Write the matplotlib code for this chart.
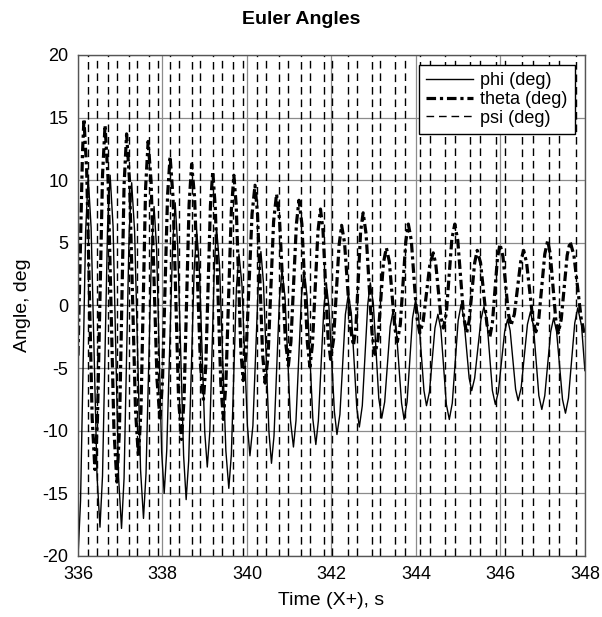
import numpy as np
import matplotlib
matplotlib.use("Agg")
import matplotlib.pyplot as plt

plt.rcParams['font.family'] = ['Liberation Sans', 'DejaVu Sans']
plt.rcParams['axes.unicode_minus'] = False

# phi (deg)
phi_t = [336.00,
         336.06, 336.18, 336.24, 336.31, 336.45, 336.52, 336.58, 336.70, 336.76,
         336.83, 336.96, 337.03, 337.09, 337.21, 337.27, 337.34, 337.48, 337.55,
         337.61, 337.74, 337.80, 337.86, 337.98, 338.04, 338.10, 338.24, 338.30,
         338.36, 338.50, 338.56, 338.62, 338.75, 338.81, 338.87, 339.00, 339.06,
         339.12, 339.23, 339.28, 339.35, 339.50, 339.57, 339.63, 339.75, 339.81,
         339.88, 340.01, 340.07, 340.14, 340.27, 340.33, 340.39, 340.52, 340.58,
         340.64, 340.77, 340.83, 340.90, 341.03, 341.10, 341.16, 341.29, 341.35,
         341.42, 341.56, 341.63, 341.69, 341.82, 341.88, 341.94, 342.07, 342.13,
         342.20, 342.33, 342.40, 342.47, 342.60, 342.66, 342.73, 342.86, 342.92,
         342.99, 343.12, 343.19, 343.26, 343.39, 343.46, 343.53, 343.66, 343.72,
         343.79, 343.92, 343.99, 344.06, 344.19, 344.25, 344.32, 344.45, 344.52,
         344.59, 344.72, 344.79, 344.86, 345.00, 345.07, 345.13, 345.26, 345.32,
         345.39, 345.54, 345.61, 345.68, 345.81, 345.88, 345.95, 346.10, 346.17,
         346.23, 346.36, 346.42, 346.49, 346.64, 346.71, 346.78, 346.91, 346.98,
         347.05, 347.19, 347.26, 347.33, 347.47, 347.54, 347.61, 347.76, 347.83,
         347.92, 348.00]
phi_deg = [-20.0,
           -15.6, 5.9, 10.3, 6.2, -13.6, -17.7, -13.6, 6.3, 10.4,
           6.3, -13.7, -17.8, -13.8, 5.8, 9.8, 5.9, -13.1, -17.0,
           -13.4, 4.3, 7.9, 4.6, -11.7, -15.0, -11.6, 4.8, 8.2,
           4.7, -12.0, -15.5, -12.4, 2.9, 6.0, 3.2, -10.1, -12.9,
           -10.1, 3.4, 6.2, 3.2, -11.6, -14.6, -11.9, 1.4, 4.1,
           1.7, -9.6, -12.0, -9.6, 1.9, 4.3, 1.8, -10.1, -12.6,
           -10.4, 0.6, 2.8, 0.7, -9.2, -11.3, -9.2, 0.7, 2.8,
           0.8, -9.1, -11.1, -9.2, -0.2, 1.7, -0.1, -8.5, -10.3,
           -8.7, -0.7, 0.9, -0.6, -8.2, -9.7, -8.0, 0.1, 1.8,
           0.2, -7.4, -9.0, -7.7, -1.7, -0.4, -1.7, -7.8, -9.1,
           -7.7, -1.0, 0.4, -0.8, -6.8, -8.0, -6.9, -1.8, -0.7,
           -1.9, -7.9, -9.1, -7.8, -1.2, 0.1, -0.9, -5.8, -6.8,
           -5.8, -1.1, -0.1, -1.2, -6.8, -7.9, -6.9, -2.1, -1.1,
           -2.0, -6.7, -7.6, -6.6, -1.5, -0.5, -1.6, -7.2, -8.3,
           -7.2, -2.1, -1.0, -2.1, -7.5, -8.6, -7.4, -1.4, -0.2,
           -1.6, -5.2]

# theta (deg)
theta_t = [336.00, 336.105, 336.14,
           336.205, 336.335, 336.40, 336.46, 336.58, 336.64, 336.71, 336.85, 336.92,
           336.98, 337.09, 337.15, 337.22, 337.36, 337.43, 337.49, 337.60, 337.66,
           337.73, 337.87, 337.94, 338.00, 338.12, 338.18, 338.25, 338.38, 338.45,
           338.51, 338.63, 338.69, 338.76, 338.90, 338.97, 339.025, 339.135, 339.19,
           339.25, 339.38, 339.44, 339.50, 339.63, 339.69, 339.745, 339.855, 339.91,
           339.98, 340.12, 340.19, 340.25, 340.37, 340.43, 340.50, 340.63, 340.70,
           340.77, 340.91, 340.98, 341.04, 341.17, 341.23, 341.30, 341.43, 341.49,
           341.55, 341.68, 341.74, 341.80, 341.92, 341.98, 342.05, 342.18, 342.24,
           342.31, 342.45, 342.52, 342.58, 342.69, 342.75, 342.82, 342.96, 343.03,
           343.10, 343.23, 343.30, 343.37, 343.50, 343.56, 343.63, 343.76, 343.82,
           343.89, 344.02, 344.09, 344.17, 344.33, 344.41, 344.47, 344.59, 344.65,
           344.72, 344.85, 344.92, 344.99, 345.13, 345.20, 345.26, 345.39, 345.45,
           345.53, 345.68, 345.75, 345.81, 345.93, 345.99, 346.06, 346.19, 346.25,
           346.33, 346.48, 346.55, 346.62, 346.77, 346.84, 346.91, 347.05, 347.12,
           347.18, 347.31, 347.37, 347.44, 347.58, 347.65, 347.74, 347.91, 348.00]
theta_deg = [-4.0, 12.1, 14.9,
             10.8, -9.0, -13.1, -9.1, 10.4, 14.4, 10.2, -9.9, -14.1,
             -10.0, 9.6, 13.7, 9.9, -8.3, -12.1, -8.4, 9.4, 13.1,
             9.9, -5.9, -9.1, -6.0, 8.8, 11.9, 8.6, -7.4, -10.7,
             -7.5, 8.1, 11.3, 8.6, -4.8, -7.5, -4.8, 8.0, 10.7,
             7.8, -6.2, -9.1, -6.3, 7.6, 10.4, 8.0, -3.6, -6.0,
             -3.7, 7.3, 9.6, 7.3, -3.9, -6.2, -4.0, 6.7, 8.9,
             6.9, -2.8, -4.8, -2.9, 6.5, 8.4, 6.5, -3.0, -4.9,
             -3.1, 5.9, 7.7, 6.0, -2.6, -4.3, -2.7, 4.8, 6.4,
             5.0, -1.8, -3.2, -1.7, 5.9, 7.4, 5.7, -2.2, -3.9,
             -2.7, 3.4, 4.6, 3.5, -1.8, -2.9, -1.5, 5.1, 6.5,
             5.2, -0.9, -2.2, -1.3, 3.3, 4.2, 3.3, -0.9, -1.8,
             -0.6, 5.3, 6.5, 5.2, -0.9, -2.2, -1.2, 3.4, 4.4,
             3.4, -1.5, -2.5, -1.4, 3.8, 4.9, 3.9, -0.7, -1.6,
             -0.7, 3.5, 4.4, 3.4, -1.2, -2.1, -1.0, 4.1, 5.2,
             4.1, -1.1, -2.2, -1.1, 4.0, 5.1, 4.0, -1.0, -2.5]

# psi (deg) sits near +/-180 and wraps; these are the times it jumps across
psi_cross = [336.24, 336.46, 336.72, 336.92, 337.21, 337.39, 337.69, 337.89,
             338.18, 338.38, 338.69, 338.89, 339.20, 339.40, 339.68, 339.91,
             340.23, 340.45, 340.76, 340.98, 341.28, 341.49, 341.83, 342.02,
             342.38, 342.60, 342.95, 343.16, 343.51, 343.74, 344.09, 344.33,
             344.69, 344.92, 345.28, 345.51, 345.89, 346.12, 346.52, 346.78,
             347.15, 347.39, 347.79]

psi_t = np.repeat(psi_cross, 2)
sign = np.array([1, -1, -1, 1] * len(psi_cross))[:len(psi_t)]
psi_deg = 179.0 * sign

fig = plt.figure(figsize=(6.02, 6.17), dpi=100)
ax = fig.add_axes([0.1296, 0.0989, 0.842, 0.812])

ax.plot(phi_t, phi_deg, color='black', lw=1.0, label='phi (deg)')
ax.plot(theta_t, theta_deg, color='black', lw=2.3, dashes=(3, 1.2, 1, 1.2),
        label='theta (deg)')
ax.plot(psi_t, psi_deg, color='black', lw=1.0, dashes=(5.5, 3.5),
        label='psi (deg)')

ax.set_xlim(336, 348)
ax.set_ylim(-20, 20)
ax.set_xticks(np.arange(336, 349, 2))
ax.set_yticks(np.arange(-20, 21, 5))
ax.grid(True, color='#8c8c8c', lw=0.9)
ax.set_axisbelow(True)
ax.tick_params(length=0, labelsize=13, pad=7)
for s in ax.spines.values():
    s.set_color('#555555')
    s.set_linewidth(1.0)

ax.set_xlabel('Time (X+), s', fontsize=14, labelpad=7)
ax.set_ylabel('Angle, deg', fontsize=14, labelpad=8)
fig.suptitle('Euler Angles', fontsize=14, fontweight='bold', y=0.982)

leg = ax.legend(loc='upper right', fontsize=13, handlelength=2.6,
                labelspacing=0.1, borderpad=0.4, fancybox=False,
                framealpha=1, edgecolor='black', borderaxespad=0.55,
                handletextpad=0.4)
leg.get_frame().set_linewidth(1.0)

fig.savefig('out.png', dpi=100)
